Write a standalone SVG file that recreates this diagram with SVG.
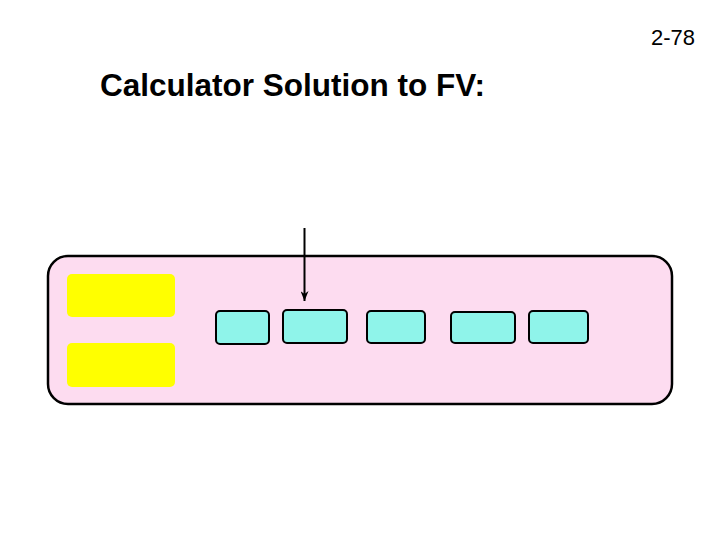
<svg xmlns="http://www.w3.org/2000/svg" width="720" height="540" viewBox="0 0 720 540">
<style>
.t{font-family:"Liberation Sans",Arial,sans-serif;fill:#000}
.key{fill:#8ff4ea;stroke:#000;stroke-width:2}
.disp{fill:#ffff00;stroke:none}
</style>
<defs>
<marker id="ah" markerWidth="10" markerHeight="8" refX="10" refY="4" orient="auto" markerUnits="userSpaceOnUse" viewBox="0 0 10 8">
<path d="M0,0 L10,4 L0,8 L3,4 Z" fill="#000"/>
</marker>
</defs>
<rect width="720" height="540" fill="#fff"/>
<text class="t" x="695" y="45" font-size="22" text-anchor="end">2-78</text>
<text class="t" x="100" y="96" font-size="31.5" font-weight="bold">Calculator Solution to FV:</text>
<g id="calculator">
<rect x="48" y="256" width="624" height="148" rx="20" ry="20" fill="#fddcf0" stroke="#000" stroke-width="2.5"/>
</g>
<g id="display1"><rect class="disp" x="67" y="274" width="108" height="43" rx="5"/></g>
<g id="display2"><rect class="disp" x="67" y="343" width="108" height="44" rx="5"/></g>
<g id="key1"><rect class="key" x="216" y="311" width="53" height="33" rx="4"/></g>
<g id="key2"><rect class="key" x="283" y="310" width="64" height="33" rx="4"/></g>
<g id="key3"><rect class="key" x="367" y="311" width="58" height="32" rx="4"/></g>
<g id="key4"><rect class="key" x="451" y="312" width="64" height="31" rx="4"/></g>
<g id="key5"><rect class="key" x="529" y="311" width="59" height="32" rx="4"/></g>
<g id="connectors">
<line x1="304.5" y1="228" x2="304.5" y2="301" stroke="#000" stroke-width="2" marker-end="url(#ah)"/>
</g>
</svg>
